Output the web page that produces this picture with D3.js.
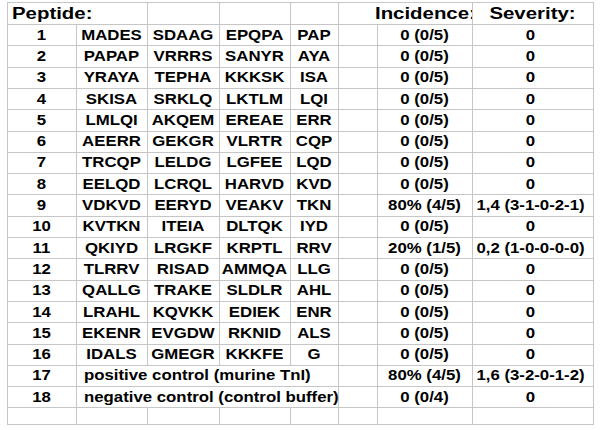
<!DOCTYPE html>
<html><head><meta charset="utf-8">
<script src="https://cdn.jsdelivr.net/npm/d3@7"></script>
<style>body{margin:0;background:#fff}svg{display:block}</style>
</head><body>
<svg id="c" width="600" height="430"></svg>
<script>
// ---- data ----
const headers = ["Peptide:", "Incidence:", "Severity:"];
const peptideIds = [1,2,3,4,5,6,7,8,9,10,11,12,13,14,15,16,17,18];
const seq1 = ["MADES","PAPAP","YRAYA","SKISA","LMLQI","AEERR","TRCQP","EELQD","VDKVD","KVTKN","QKIYD","TLRRV","QALLG","LRAHL","EKENR","IDALS"];
const seq2 = ["SDAAG","VRRRS","TEPHA","SRKLQ","AKQEM","GEKGR","LELDG","LCRQL","EERYD","ITEIA","LRGKF","RISAD","TRAKE","KQVKK","EVGDW","GMEGR"];
const seq3 = ["EPQPA","SANYR","KKKSK","LKTLM","EREAE","VLRTR","LGFEE","HARVD","VEAKV","DLTQK","KRPTL","AMMQA","SLDLR","EDIEK","RKNID","KKKFE"];
const seq4 = ["PAP","AYA","ISA","LQI","ERR","CQP","LQD","KVD","TKN","IYD","RRV","LLG","AHL","ENR","ALS","G"];
const controls = ["positive control (murine TnI)", "negative control (control buffer)"];
const incidence = ["0 (0/5)","0 (0/5)","0 (0/5)","0 (0/5)","0 (0/5)","0 (0/5)","0 (0/5)","0 (0/5)","80% (4/5)","0 (0/5)","20% (1/5)","0 (0/5)","0 (0/5)","0 (0/5)","0 (0/5)","0 (0/5)","80% (4/5)","0 (0/4)"];
const severity = ["0","0","0","0","0","0","0","0","1,4 (3-1-0-2-1)","0","0,2 (1-0-0-0-0)","0","0","0","0","0","1,6 (3-2-0-1-2)","0"];

// ---- layout ----
const colEdges = [7, 76, 147, 219, 290, 338, 377, 472, 593];
const tableTop = 2, headerH = 22, rowH = 21.3, lastH = 17;
const nData = peptideIds.length;
const rowTop = i => i === 0 ? tableTop : tableTop + headerH + (i - 1) * rowH;
const rowHeight = i => i === 0 ? headerH : (i <= nData ? rowH : lastH);
const tableBottom = rowTop(nData + 1) + lastH;
const SX = 1.2;
const grid = "#c6c6c6";

const svg = d3.select("#c");

// horizontal lines
const hLines = d3.range(nData + 2).map(rowTop).concat([tableBottom]);
svg.append("g").selectAll("line").data(hLines).join("line")
  .attr("x1", colEdges[0]).attr("x2", colEdges[colEdges.length-1] + 1)
  .attr("y1", d => Math.round(d) + 0.5).attr("y2", d => Math.round(d) + 0.5)
  .attr("stroke", grid).attr("stroke-width", 1);

// vertical line segments per row, skipping spanned boundaries
const skip = (row, ci) => {
  if (row === 0) return ci === 1 || ci === 6;
  if (row === 17 || row === 18) return ci === 2 || ci === 3 || ci === 4;
  return false;
};
const vSegs = [];
for (let r = 0; r < nData + 2; r++) {
  colEdges.forEach((e, ci) => { if (!skip(r, ci)) vSegs.push({x: e, y1: rowTop(r), y2: rowTop(r) + rowHeight(r)}); });
}
svg.append("g").selectAll("line").data(vSegs).join("line")
  .attr("x1", d => d.x + 0.5).attr("x2", d => d.x + 0.5)
  .attr("y1", d => Math.round(d.y1)).attr("y2", d => Math.round(d.y2) + 1)
  .attr("stroke", grid).attr("stroke-width", 1);

// clip for Incidence header
svg.append("clipPath").attr("id", "clipInc").append("rect")
  .attr("x", colEdges[5]).attr("y", tableTop).attr("width", colEdges[7] - colEdges[5]).attr("height", headerH);

const font = "'Liberation Sans', Arial, sans-serif";
function txt(g, s, cx, cy, size, anchor) {
  return g.append("text").text(s)
    .attr("transform", `translate(${cx},${cy}) scale(${SX},1)`)
    .attr("text-anchor", anchor || "middle")
    .attr("font-family", font).attr("font-weight", "bold")
    .attr("font-size", size).attr("fill", "#000");
}
const g = svg.append("g");
const mid = (a, b) => (colEdges[a] + colEdges[b]) / 2;
const hy = tableTop + headerH / 2 + 6;
txt(g, headers[0], 12, hy, 17, "start");
txt(g.append("g").attr("clip-path", "url(#clipInc)"), headers[1], 375, hy, 17, "start");
txt(g, headers[2], mid(7, 8), hy, 17);

peptideIds.forEach((id, i) => {
  const r = i + 1;
  const cy = rowTop(r) + rowH / 2 + 5;
  txt(g, String(id), mid(0, 1), cy, 14);
  if (i < seq1.length) {
    txt(g, seq1[i], mid(1, 2), cy, 14);
    txt(g, seq2[i], mid(2, 3), cy, 14);
    txt(g, seq3[i], mid(3, 4), cy, 14);
    txt(g, seq4[i], mid(4, 5), cy, 14);
  } else {
    txt(g, controls[i - seq1.length], 84, cy, 14, "start");
  }
  txt(g, incidence[i], mid(6, 7), cy, 14);
  txt(g, severity[i], mid(7, 8) - 2, cy, 14);
});
</script>
</body></html>
